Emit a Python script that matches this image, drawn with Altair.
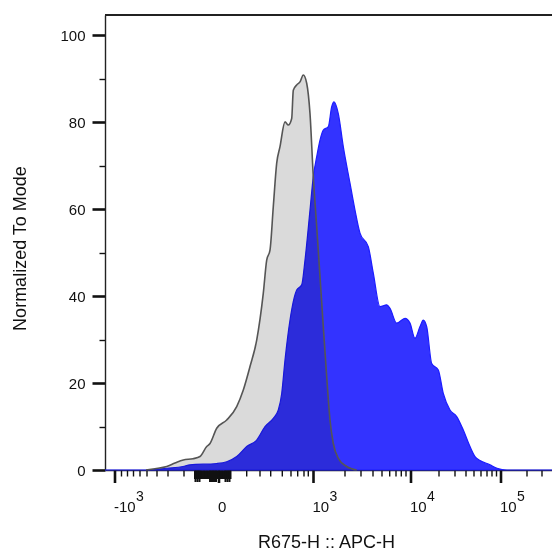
import altair as alt
import pandas as pd

# Histogram data in display channel units (biexponential display space) vs % of mode
gray_x = [41, 50, 61.7, 70, 78.3, 88, 95, 101.7, 105, 111.7, 121.7, 131.7, 138.3, 145, 151.7,
          158.3, 161.7, 165, 168.3, 171.7, 175, 180, 183.3, 186.7, 188.3, 191.7, 195, 198.3,
          201.7, 205, 208.3, 211.7, 215, 218.3, 221.7, 225, 228.3, 233.3, 241.7, 251.7]
gray_y = [0, 0.3, 0.8, 1.6, 2.3, 2.6, 3.1, 5.4, 6.1, 9.6, 11.5, 14.6, 18.4, 23.8, 29.9,
          40.7, 48.3, 50.6, 60.6, 70.6, 74.4, 80.1, 79.4, 80.9, 87.4, 88.6, 89.3, 90.9,
          89, 82, 67.5, 56, 44.5, 33, 21.5, 11.5, 6.1, 2.7, 0.8, 0]

blue_x = [0, 45, 61.7, 78, 85, 111.7, 121.7, 131.7, 141.7, 151.7, 160, 168.3, 173.3, 176.7,
          180, 185, 191.7, 196.7, 200, 205, 208.3, 211.7, 215, 218.3, 223.3, 226.7, 229,
          233.3, 238.3, 245, 250, 255, 263.3, 268.3, 275, 281.7, 285, 291.7, 300, 305, 310,
          315, 318.3, 321.7, 326.7, 333.3, 338.3, 345, 351.7, 358.3, 365, 370, 375, 385,
          392, 402, 447]
blue_y = [0, 0, 0.4, 0.8, 1.2, 1.5, 1.9, 3.1, 5.4, 6.9, 10, 11.9, 13.8, 17.6,
          25.3, 34.5, 41.4, 42.6, 48.3, 59.8, 67.5, 72.1, 75.9, 78.2, 79, 83.6, 84.7,
          82, 74.4, 66, 59.8, 54.5, 51.4, 45.3, 37.6, 38, 37.2, 33.8, 34.9, 33.8, 30.3,
          33, 34.5, 33, 24.5, 23, 17.6, 13.8, 12.3, 9.2, 5.4, 3.1, 2.2, 1.2,
          0.4, 0, 0]

# Axis ticks (display channel units)
x_major_ticks = [10, 114, 208.5, 306, 396]          # -10^3, 0, 10^3, 10^4, 10^5
x_minor_ticks = [16.5, 22.5, 28.5, 35, 42, 52, 63, 79,
                 141.7, 155, 165.7, 177.3, 186, 192.7, 199, 203.3,
                 240, 256, 268, 277, 284.7, 291, 296.3, 301,
                 334, 350, 361, 369, 376, 382, 387, 391.5,
                 422, 437]
x_cluster_ticks = [90, 91.5, 93, 94.5, 96, 97.5, 99, 100.5, 102, 103.5, 105, 106.5, 108,
                   109.5, 111, 112.5, 114, 115.5, 117, 118.5, 120, 121.5, 123, 124.5, 125.5]
x_mid_ticks = [90.5, 92.5, 94.5, 105, 107, 109, 111, 120.5, 122.5, 124.5]
x_label_base = ["-10", "0", "10", "10", "10"]
x_label_exp = ["3", "", "3", "4", "5"]
y_ticks = list(range(0, 101, 5))

W, H = 447, 455
XMAX, YMAX = 447, 104.7
FONT = "Liberation Sans"

gray = pd.DataFrame({"ch": gray_x, "pct": gray_y})
blue = pd.DataFrame({"ch": blue_x, "pct": blue_y})
labels = pd.DataFrame({"ch": x_major_ticks, "base": x_label_base, "exp": x_label_exp})
majors = pd.DataFrame({"t": x_major_ticks})
minors = pd.DataFrame({"t": x_minor_ticks})
cluster = pd.DataFrame({"t": x_cluster_ticks})
mids = pd.DataFrame({"t": x_mid_ticks})

xs = alt.Scale(domain=[0, XMAX], nice=False, zero=False)
ys = alt.Scale(domain=[0, YMAX], nice=False)

x_axis = alt.Axis(
    ticks=False, labels=False, grid=False,
    domainColor="#222", domainWidth=1.4,
    title="R675-H :: APC-H", titleFont=FONT, titleFontSize=18, titleFontWeight="normal",
    titleColor="#111", titleX=221, titleY=77, titleBaseline="alphabetic", titleAlign="center",
)
y_axis = alt.Axis(
    values=y_ticks, grid=False,
    labelExpr="datum.value % 20 == 0 ? datum.label : ''",
    tickSize={"condition": {"test": "datum.value % 20 == 0", "value": 13}, "value": 6},
    tickWidth={"condition": {"test": "datum.value % 20 == 0", "value": 2.6}, "value": 1.4},
    tickColor="#111", domainColor="#222", domainWidth=1.4,
    labelFont=FONT, labelFontSize=15, labelColor="#111", labelPadding=7,
    title="Normalized To Mode", titleFont=FONT, titleFontSize=18, titleFontWeight="normal",
    titleColor="#111", titleX=-80, titleY=233, titleAngle=270, titleBaseline="alphabetic",
    titleAlign="center",
)

blue_area = alt.Chart(blue).mark_area(
    fill="#3333ff", stroke="#1c1cff", strokeWidth=1.2, interpolate="monotone"
).encode(
    x=alt.X("ch:Q", scale=xs, axis=x_axis),
    y=alt.Y("pct:Q", scale=ys, axis=y_axis),
)

gray_area = alt.Chart(gray).mark_area(
    fill="#dadada", blend="multiply", interpolate="monotone"
).encode(x=alt.X("ch:Q", scale=xs), y=alt.Y("pct:Q", scale=ys))

gray_line = alt.Chart(gray).mark_line(
    color="#555555", strokeWidth=1.6, interpolate="monotone"
).encode(x=alt.X("ch:Q", scale=xs), y=alt.Y("pct:Q", scale=ys))

top_border = alt.Chart(blue).mark_rule(color="#222", strokeWidth=1.6).encode(
    x=alt.value(0), x2=alt.value(W), y=alt.value(0)
)

major_ticks = alt.Chart(majors).mark_rule(color="#111", strokeWidth=2.6).encode(
    x=alt.X("t:Q", scale=xs), y=alt.value(H + 0.7), y2=alt.value(H + 13)
)
minor_ticks = alt.Chart(minors).mark_rule(color="#111", strokeWidth=1.4).encode(
    x=alt.X("t:Q", scale=xs), y=alt.value(H + 0.7), y2=alt.value(H + 6.5)
)
cluster_ticks = alt.Chart(cluster).mark_rule(color="#111", strokeWidth=2).encode(
    x=alt.X("t:Q", scale=xs), y=alt.value(H + 0.7), y2=alt.value(H + 9)
)
mid_ticks = alt.Chart(mids).mark_rule(color="#111", strokeWidth=2).encode(
    x=alt.X("t:Q", scale=xs), y=alt.value(H + 0.7), y2=alt.value(H + 12)
)

label_base = alt.Chart(labels).mark_text(
    align="left", baseline="alphabetic", font=FONT, fontSize=15, color="#111", dx=-1
).encode(x=alt.X("ch:Q", scale=xs), y=alt.value(H + 42), text="base:N")

label_exp = alt.Chart(labels).transform_calculate(
    ex="datum.ch + (indexof(datum.base, '-') == 0 ? 21 : 16)"
).mark_text(
    align="left", baseline="alphabetic", font=FONT, fontSize=14, color="#111"
).encode(x=alt.X("ex:Q", scale=xs), y=alt.value(H + 31), text="exp:N")

chart = alt.layer(
    blue_area, gray_area, gray_line, top_border, major_ticks, minor_ticks,
    cluster_ticks, mid_ticks, label_base, label_exp
).properties(
    width=W, height=H,
    autosize=alt.AutoSizeParams(type="none"),
    padding={"left": 97, "top": 7, "right": 0, "bottom": 81},
).configure_view(stroke=None).configure(background="white")

chart.save("out.html", embed_options={"renderer": "svg", "actions": False})
